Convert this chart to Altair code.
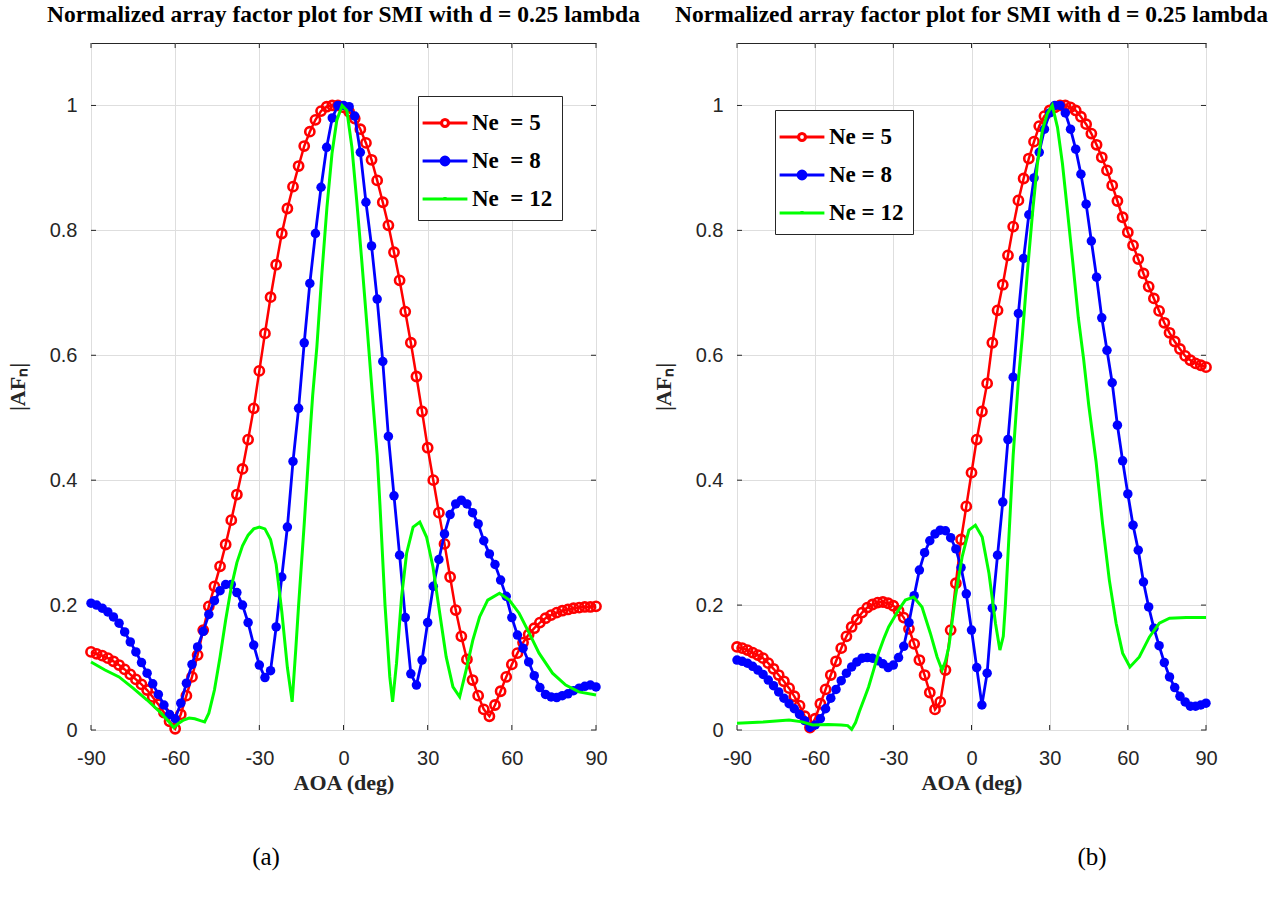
import altair as alt
import pandas as pd

# ---------------- data ----------------
AOA_GRID = list(range(-90, 92, 2))

# panel (a)
A_NE5 = [0.125, 0.122, 0.119, 0.115, 0.110, 0.104, 0.097, 0.089, 0.081, 0.073,
         0.064, 0.053, 0.041, 0.028, 0.014, 0.002, 0.025, 0.055, 0.085, 0.120,
         0.160, 0.198, 0.230, 0.262, 0.297, 0.336, 0.377, 0.418, 0.465, 0.515,
         0.575, 0.635, 0.693, 0.745, 0.795, 0.835, 0.870, 0.903, 0.935, 0.958,
         0.977, 0.991, 0.998, 1.000, 1.000, 0.997, 0.990, 0.979, 0.962, 0.940,
         0.913, 0.880, 0.845, 0.808, 0.765, 0.720, 0.670, 0.620, 0.566, 0.510,
         0.452, 0.400, 0.348, 0.298, 0.245, 0.192, 0.150, 0.113, 0.080, 0.055,
         0.033, 0.022, 0.040, 0.062, 0.085, 0.105, 0.123, 0.140, 0.153, 0.163,
         0.172, 0.179, 0.184, 0.188, 0.191, 0.193, 0.195, 0.196, 0.197, 0.197,
         0.198]
A_NE8 = [0.203, 0.200, 0.195, 0.189, 0.181, 0.171, 0.157, 0.141, 0.125, 0.108,
         0.091, 0.074, 0.057, 0.040, 0.025, 0.018, 0.043, 0.075, 0.105, 0.133,
         0.158, 0.185, 0.207, 0.223, 0.233, 0.233, 0.220, 0.200, 0.172, 0.136,
         0.104, 0.084, 0.095, 0.165, 0.245, 0.325, 0.430, 0.515, 0.620, 0.715,
         0.795, 0.869, 0.933, 0.980, 1.000, 1.000, 0.998, 0.983, 0.925, 0.845,
         0.775, 0.690, 0.590, 0.470, 0.375, 0.280, 0.180, 0.090, 0.072, 0.112,
         0.172, 0.230, 0.273, 0.314, 0.345, 0.362, 0.368, 0.362, 0.348, 0.330,
         0.303, 0.282, 0.265, 0.240, 0.214, 0.180, 0.152, 0.131, 0.109, 0.087,
         0.068, 0.057, 0.053, 0.052, 0.055, 0.058, 0.063, 0.067, 0.070, 0.072,
         0.069]
A_NE12_X = [-90, -85, -80, -75, -70, -65, -62, -60.5, -59, -57, -55, -53, -51, -49.5,
            -48, -46, -44, -42, -40, -38, -36, -34, -32, -30, -28, -26, -24, -22, -20,
            -18.3, -17, -16, -14, -12, -11, -9.5, -7.7, -5.9, -4.1, -2.4, -0.5, 1.2, 3,
            4.7, 6.5, 8.5, 10.4, 12, 13, 14.8, 16.5, 17.5, 18.9, 20.7, 22.5, 24.8, 27.2,
            29.6, 31.9, 34.3, 36.6, 39, 41.4, 43.7, 46.1, 48.5, 51.4, 55.6, 59.1, 62.6,
            66.2, 69.7, 74.5, 79.2, 83.9, 90]
A_NE12_Y = [0.109, 0.096, 0.085, 0.067, 0.048, 0.027, 0.012, 0.004, 0.010, 0.016,
            0.019, 0.018, 0.015, 0.013, 0.027, 0.064, 0.117, 0.176, 0.229, 0.268,
            0.295, 0.312, 0.322, 0.325, 0.322, 0.305, 0.265, 0.190, 0.100, 0.045,
            0.130, 0.200, 0.330, 0.470, 0.535, 0.613, 0.731, 0.837, 0.923, 0.976,
            1.000, 0.992, 0.933, 0.848, 0.752, 0.640, 0.530, 0.440, 0.360, 0.200,
            0.085, 0.045, 0.107, 0.213, 0.283, 0.325, 0.333, 0.309, 0.261, 0.187,
            0.117, 0.069, 0.053, 0.096, 0.144, 0.181, 0.208, 0.219, 0.208, 0.187,
            0.155, 0.123, 0.091, 0.072, 0.061, 0.056]

# panel (b)
B_NE5 = [0.133, 0.131, 0.128, 0.124, 0.120, 0.115, 0.107, 0.098, 0.088, 0.078,
         0.067, 0.054, 0.039, 0.022, 0.004, 0.018, 0.042, 0.065, 0.088, 0.110,
         0.131, 0.150, 0.165, 0.177, 0.188, 0.196, 0.201, 0.204, 0.205, 0.203,
         0.199, 0.191, 0.180, 0.162, 0.138, 0.112, 0.088, 0.060, 0.033, 0.045,
         0.096, 0.160, 0.235, 0.305, 0.358, 0.412, 0.465, 0.510, 0.555, 0.620,
         0.672, 0.713, 0.760, 0.806, 0.848, 0.883, 0.915, 0.942, 0.967, 0.983,
         0.992, 0.997, 1.000, 1.000, 0.997, 0.992, 0.982, 0.970, 0.955, 0.937,
         0.917, 0.896, 0.872, 0.847, 0.821, 0.797, 0.776, 0.754, 0.731, 0.710,
         0.691, 0.671, 0.652, 0.636, 0.622, 0.610, 0.599, 0.592, 0.587, 0.584,
         0.581]
B_NE8 = [0.112, 0.110, 0.107, 0.102, 0.096, 0.089, 0.080, 0.071, 0.061, 0.051,
         0.042, 0.034, 0.025, 0.015, 0.004, 0.008, 0.018, 0.034, 0.051, 0.065,
         0.079, 0.091, 0.101, 0.109, 0.115, 0.116, 0.115, 0.111, 0.106, 0.100,
         0.104, 0.116, 0.134, 0.172, 0.215, 0.256, 0.284, 0.303, 0.314, 0.320,
         0.319, 0.308, 0.290, 0.260, 0.218, 0.160, 0.100, 0.040, 0.091, 0.195,
         0.280, 0.365, 0.465, 0.565, 0.667, 0.755, 0.825, 0.884, 0.925, 0.962,
         0.988, 1.000, 1.000, 0.988, 0.962, 0.930, 0.890, 0.842, 0.783, 0.725,
         0.660, 0.608, 0.556, 0.488, 0.431, 0.378, 0.328, 0.288, 0.237, 0.197,
         0.163, 0.135, 0.108, 0.085, 0.068, 0.054, 0.045, 0.038, 0.038, 0.040,
         0.043]
B_NE12_X = [-90, -80, -70, -65, -61, -55, -50, -47.5, -46, -44.5, -43, -41, -39.5,
            -37.5, -35.7, -33.5, -31.8, -28, -25.4, -22.2, -19, -15.8, -13.2, -11.3,
            -10, -8.7, -6.2, -3.6, -1, 1.5, 4.1, 6.7, 9.2, 10.9, 12.2, 13, 14, 15, 16,
            17, 18, 19.5, 21.4, 23.4, 25.3, 27.2, 29.1, 31, 33, 34.9, 36.8, 38.8, 41,
            43, 45, 47.8, 50.3, 52.9, 55.5, 58, 60.8, 64.4, 68.3, 72.1, 76, 82.4, 90]
B_NE12_Y = [0.011, 0.013, 0.016, 0.013, 0.008, 0.009, 0.008, 0.007, 0.001, 0.012,
            0.030, 0.052, 0.069, 0.097, 0.123, 0.148, 0.165, 0.192, 0.208, 0.213,
            0.197, 0.155, 0.117, 0.096, 0.110, 0.133, 0.213, 0.277, 0.320, 0.328,
            0.309, 0.251, 0.171, 0.128, 0.150, 0.200, 0.280, 0.360, 0.440, 0.500,
            0.560, 0.630, 0.731, 0.827, 0.907, 0.960, 0.987, 1.000, 0.965, 0.907,
            0.832, 0.752, 0.660, 0.595, 0.520, 0.430, 0.330, 0.240, 0.171, 0.123,
            0.101, 0.117, 0.149, 0.171, 0.179, 0.180, 0.180]

LABELS_A = ["Ne\u00a0 = 5", "Ne\u00a0 = 8", "Ne\u00a0 = 12"]
LABELS_B = ["Ne = 5", "Ne = 8", "Ne = 12"]
STROKES = ["#ff0000", "#0000ff", "#00ff00"]
FILLS = ["#ffffff", "#0000ff", "#00ff00"]
SHAPES = [
    "M-1.4,0L-0.22,0M0.22,0L1.4,0M-0.22,0A0.22,0.22,0,1,1,0.22,0A0.22,0.22,0,1,1,-0.22,0Z",
    "M-1.4,0L1.4,0M-0.24,0A0.24,0.24,0,1,1,0.24,0A0.24,0.24,0,1,1,-0.24,0Z",
    "M-1.4,0L1.4,0M0,-0.12L0,0",
]
X_TICKS = [-90, -60, -30, 0, 30, 60, 90]
Y_TICKS = [0, 0.2, 0.4, 0.6, 0.8, 1]
TITLE = "Normalized array factor plot for SMI with d = 0.25 lambda"
PLOT_H = 687
TICK_LEN = 5


def panel(ne5, ne8, gx, gy, labels, width, lx, ly, caption, cx):
    d5 = pd.DataFrame({"aoa": AOA_GRID, "af": ne5})
    d8 = pd.DataFrame({"aoa": AOA_GRID, "af": ne8})
    d12 = pd.DataFrame({"aoa": gx, "af": gy})
    dxt = pd.DataFrame({"aoa": X_TICKS})
    dyt = pd.DataFrame({"af": Y_TICKS})

    x = alt.X("aoa:Q", scale=alt.Scale(domain=[-90, 90], nice=False, zero=False),
              axis=alt.Axis(values=X_TICKS, labelExpr="'' + datum.value",
                            labelFlush=False, title="AOA (deg)"))
    y = alt.Y("af:Q", scale=alt.Scale(domain=[0, 1.1], nice=False),
              axis=alt.Axis(values=Y_TICKS, format="~g", labelFlush=False,
                            title="|AF\u2099|"))

    l5 = alt.Chart(d5).mark_line(color="#ff0000", strokeWidth=2.5).encode(x=x, y=y)
    p5 = alt.Chart(d5).mark_point(shape="circle", filled=False, color="#ff0000",
                                  strokeWidth=2.6, size=85, opacity=1).encode(x=x, y=y)
    l8 = alt.Chart(d8).mark_line(color="#0000ff", strokeWidth=2.8).encode(x=x, y=y)
    p8 = alt.Chart(d8).mark_circle(color="#0000ff", size=90, opacity=1).encode(x=x, y=y)
    l12 = alt.Chart(d12).mark_line(color="#00ff00", strokeWidth=3).encode(x=x, y=y)

    # inward tick marks on all four sides of the box (MATLAB style)
    tick = dict(color="#262626", strokeWidth=1)
    tb = alt.Chart(dxt).mark_rule(**tick).encode(
        x=x, y=alt.value(PLOT_H - TICK_LEN), y2=alt.value(PLOT_H))
    tt = alt.Chart(dxt).mark_rule(**tick).encode(
        x=x, y=alt.value(0), y2=alt.value(TICK_LEN))
    tl = alt.Chart(dyt).mark_rule(**tick).encode(
        y=y, x=alt.value(0), x2=alt.value(TICK_LEN))
    tr = alt.Chart(dyt).mark_rule(**tick).encode(
        y=y, x=alt.value(width - TICK_LEN), x2=alt.value(width))

    leg = alt.Legend(orient="none", legendX=lx, legendY=ly, title=None,
                     symbolSize=1024, symbolStrokeWidth=3.2, symbolOpacity=1,
                     labelFont="Liberation Serif", labelFontWeight="bold",
                     labelFontSize=23, labelColor="black", labelOffset=9,
                     strokeColor="#262626", fillColor="white", padding=9,
                     rowPadding=8, labelLimit=300)
    ldf = pd.DataFrame({"series": labels})
    legend_layer = alt.Chart(ldf).transform_filter("false").mark_point(opacity=1).encode(
        stroke=alt.Stroke("series:N", scale=alt.Scale(domain=labels, range=STROKES), legend=leg),
        fill=alt.Fill("series:N", scale=alt.Scale(domain=labels, range=FILLS), legend=leg),
        shape=alt.Shape("series:N", scale=alt.Scale(domain=labels, range=SHAPES), legend=leg),
    )
    cap = alt.Chart(pd.DataFrame({"cap": [caption]})).mark_text(
        font="Liberation Serif", fontSize=25, color="black", align="center",
        baseline="middle").encode(text="cap:N", x=alt.value(cx), y=alt.value(814))

    return alt.layer(tb, tt, tl, tr, l5, p5, l8, p8, l12, legend_layer, cap).properties(
        width=width, height=PLOT_H,
        title=alt.TitleParams(TITLE, font="Liberation Serif", fontWeight="bold",
                              fontSize=23.5, color="black", anchor="middle",
                              offset=10, dy=-6))


A = panel(A_NE5, A_NE8, A_NE12_X, A_NE12_Y, LABELS_A, 505, 327, 53, "(a)", 175)
B = panel(B_NE5, B_NE8, B_NE12_X, B_NE12_Y, LABELS_B, 469, 38, 67, "(b)", 355)

chart = alt.hconcat(A, B, spacing=10).resolve_scale(
    stroke="independent", fill="independent", shape="independent"
).resolve_legend(
    stroke="independent", fill="independent", shape="independent"
).properties(
    padding={"left": 5, "top": 2, "right": 0, "bottom": 0}
).configure_view(stroke="#262626", strokeWidth=1).configure_axis(
    grid=True, gridColor="#dedede", gridWidth=1, domain=False, ticks=False,
    labelFont="Liberation Sans", labelFontSize=20, labelColor="#262626",
    titleFont="Liberation Serif", titleFontWeight="bold", titleFontSize=22,
    titleColor="#262626"
).configure_axisX(labelPadding=18, titlePadding=4).configure_axisY(
    labelPadding=14, titlePadding=20)

chart.save("out.html", embed_options={"renderer": "svg", "actions": False})
